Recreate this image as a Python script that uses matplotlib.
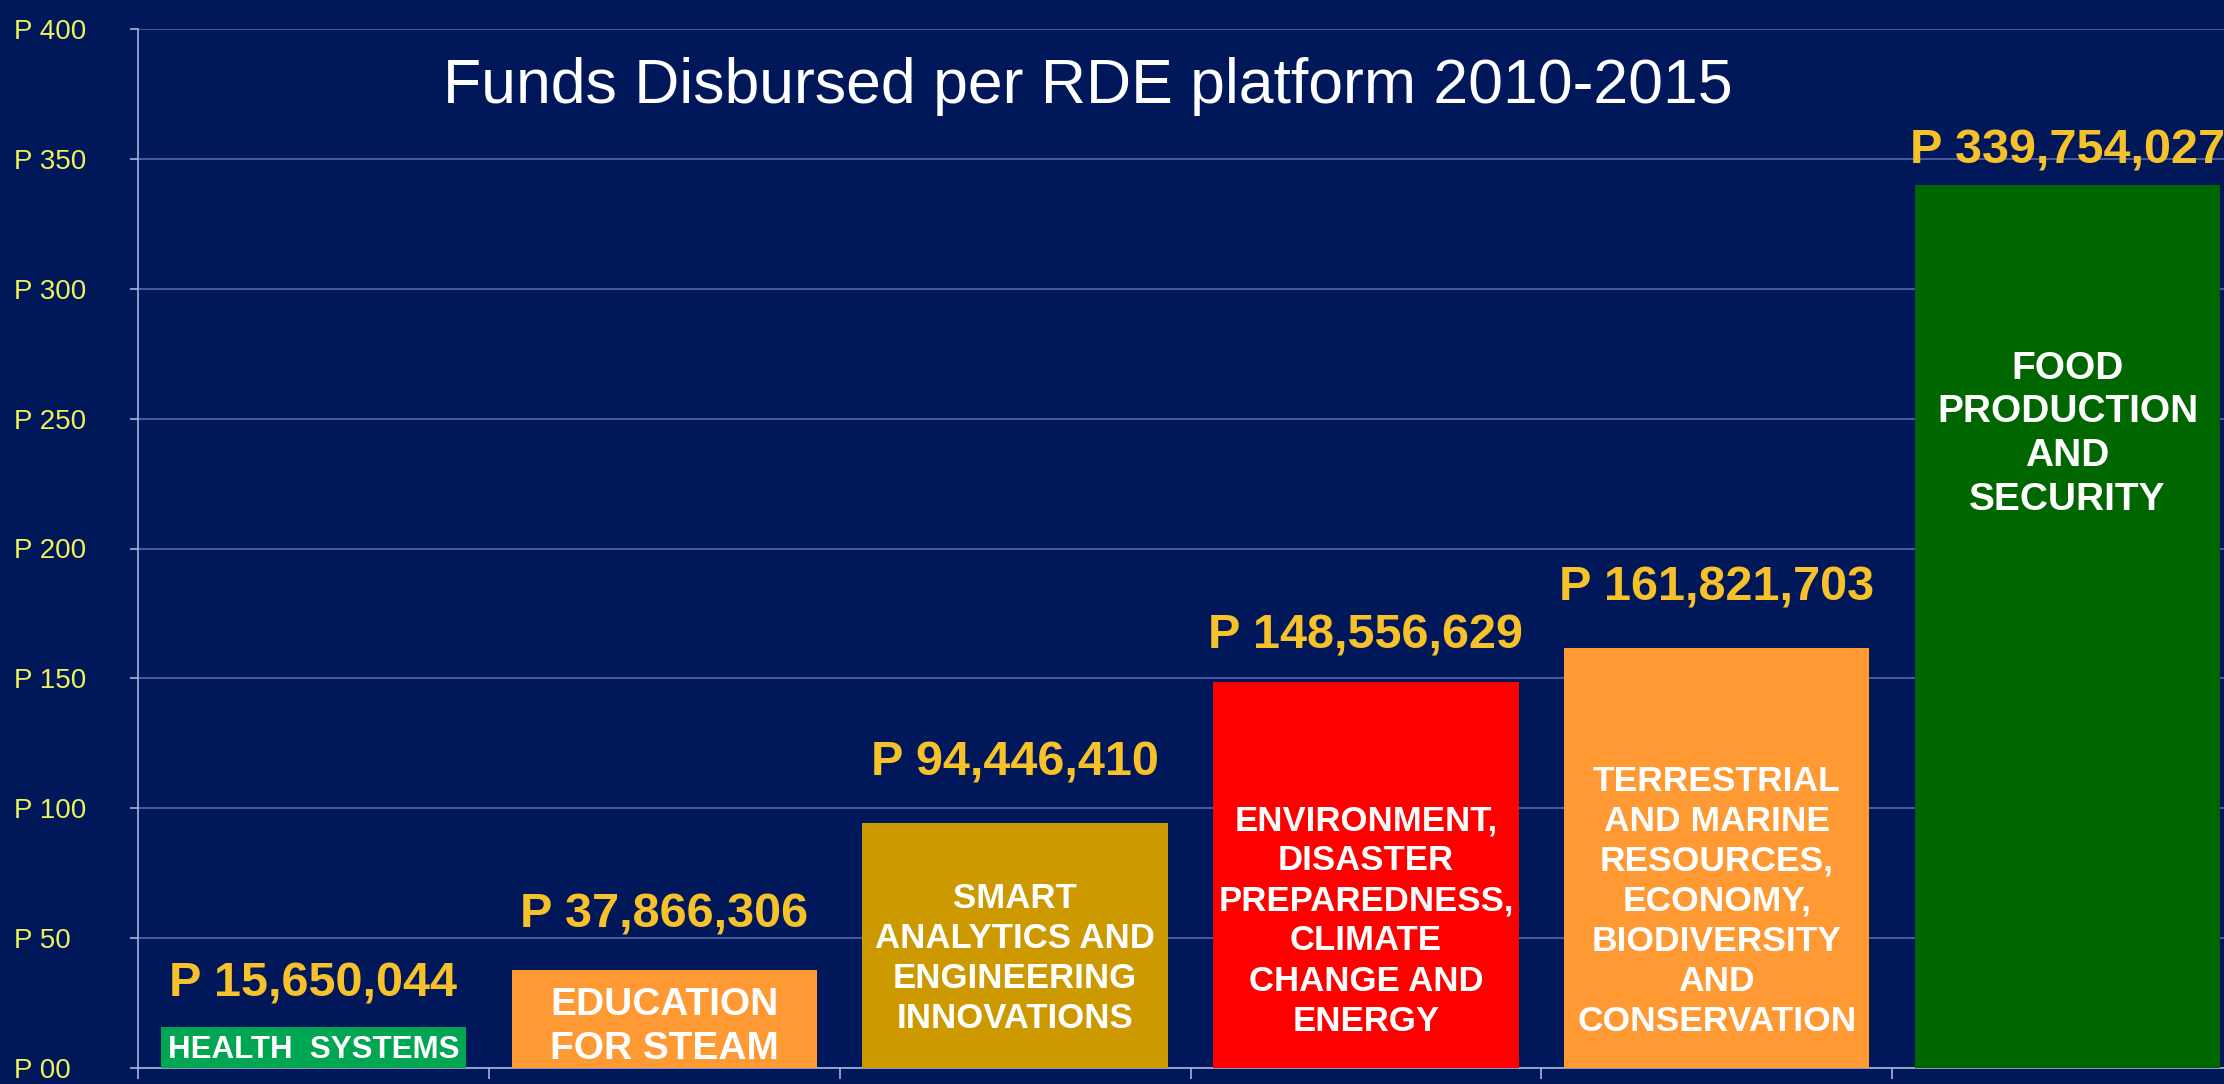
import matplotlib.pyplot as plt

# Funds disbursed per platform, in millions of pesos
platforms = [
    "HEALTH  SYSTEMS",
    "EDUCATION\nFOR STEAM",
    "SMART\nANALYTICS AND\nENGINEERING\nINNOVATIONS",
    "ENVIRONMENT,\nDISASTER\nPREPAREDNESS,\nCLIMATE\nCHANGE AND\nENERGY",
    "TERRESTRIAL\nAND MARINE\nRESOURCES,\nECONOMY,\nBIODIVERSITY\nAND\nCONSERVATION",
    "FOOD\nPRODUCTION\nAND\nSECURITY",
]
amounts = [15650044, 37866306, 94446410, 148556629, 161821703, 339754027]
y_ticks = [0, 50, 100, 150, 200, 250, 300, 350, 400]
y_tick_labels = ["P 00", "P 50", "P 100", "P 150", "P 200", "P 250", "P 300", "P 350", "P 400"]

# styling
bar_colors = ["#00a651", "#ff9933", "#cc9900", "#ff0000", "#ff9933", "#006600"]
inner_sizes = [22.5, 28, 25, 25, 25.5, 28]
inner_y = [7.1, 15.8, 42, 56.6, 64.2, 244]      # centre of the text inside each bar
label_gap = [22, 30, 34, 24, 34, 16]            # points between bar top and value label

BG = "#00185a"
GRID = "#5566a8"
SPINE = "#a8b4dc"

plt.rcParams["font.family"] = ["Liberation Sans", "DejaVu Sans"]

W, H = 2224, 1084
fig = plt.figure(figsize=(W / 100, H / 100), dpi=100, facecolor=BG)
ax = fig.add_axes([138 / W, 16 / H, 2105 / W, 1039 / H], facecolor=BG)

millions = [a / 1e6 for a in amounts]
xs = list(range(len(platforms)))
ax.bar(xs, millions, width=0.87, color=bar_colors, zorder=3)

for x, v, amt, txt, fs, ty, gap in zip(xs, millions, amounts, platforms,
                                       inner_sizes, inner_y, label_gap):
    ax.annotate(f"P {amt:,}", (x, v), xytext=(0, gap), textcoords="offset points",
                ha="center", va="baseline", fontsize=35, fontweight="bold",
                color="#f7c12a", zorder=4)
    ax.text(x, ty, txt, ha="center", va="center", fontsize=fs, fontweight="bold",
            color="white", linespacing=1.27, zorder=4)

ax.set_xlim(-0.5, len(platforms) - 0.5)
ax.set_ylim(0, 400)
ax.set_yticks(y_ticks)
ax.set_yticklabels(y_tick_labels)
ax.set_xticks([i + 0.5 for i in range(-1, len(platforms))])
ax.set_xticklabels([])

ax.grid(axis="y", color=GRID, linewidth=1.2, zorder=0)
ax.tick_params(axis="y", direction="out", length=6, width=1.2, color=SPINE,
               pad=83, labelsize=20, labelcolor="#eef25a")
ax.tick_params(axis="x", direction="out", length=8, width=1.2, color=SPINE)
for lbl in ax.get_yticklabels():
    lbl.set_horizontalalignment("left")

for side in ["top", "right"]:
    ax.spines[side].set_visible(False)
for side in ["left", "bottom"]:
    ax.spines[side].set_color(SPINE)
    ax.spines[side].set_linewidth(1.2)

fig.text(1088 / W, 1 - 86 / H, "Funds Disbursed per RDE platform 2010-2015",
         ha="center", va="center", fontsize=45, color="white")

fig.savefig("out.png", dpi=100, facecolor=BG)
